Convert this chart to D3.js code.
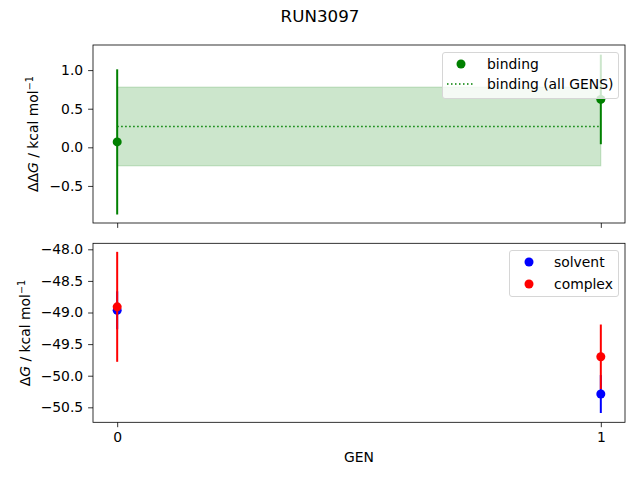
<!DOCTYPE html>
<html>
<head>
<meta charset="utf-8">
<script src="https://cdn.jsdelivr.net/npm/d3@7"></script>
<style>
  body { margin: 0; background: #fff; }
  svg { font-family: "DejaVu Sans", sans-serif; }
</style>
</head>
<body>
<div id="viz"></div>
<script>
// data
var gens = [0, 1];
var bindingVals = [0.07, 0.62];
var bindingErrs = [0.94, 0.58];
var bindingAll = 0.27;      // mean over all GENS
var bindingAllErr = 0.51;   // shaded band half-width
var solventVals = [-48.965, -50.29];
var solventErrs = [0.3, 0.3];
var complexVals = [-48.91, -49.70];
var complexErrs = [0.87, 0.51];
var topTicks = [-0.5, 0.0, 0.5, 1.0];
var bottomTicks = [-48.0, -48.5, -49.0, -49.5, -50.0, -50.5];

var W = 640, H = 480;
var LEFT = 93, RIGHT = 625;

var svg = d3.select("#viz")
  .append("svg")
  .attr("width", W)
  .attr("height", H);

var x = d3.scaleLinear().domain([-0.05, 1.05]).range([LEFT, RIGHT]);

var yTop = d3.scaleLinear().domain([-0.98, 1.325]).range([223, 45]);
var yBot = d3.scaleLinear().domain([-50.737, -47.905]).range([422.3, 243.3]);

function fmt(d) {
  return d3.format(".1f")(d).replace("-", "\u2212");
}

function styleAxis(g) {
  g.selectAll(".domain").remove();
  g.selectAll(".tick line").attr("stroke", "#000").attr("stroke-width", 0.8);
  g.selectAll(".tick text").attr("fill", "#000").style("font-size", "13.9px")
    .style("font-family", "DejaVu Sans");
}

function frame(y0, y1) {
  svg.append("rect")
    .attr("x", LEFT).attr("y", y0)
    .attr("width", RIGHT - LEFT).attr("height", y1 - y0)
    .attr("fill", "none").attr("stroke", "#000").attr("stroke-width", 0.8);
}

function errbar(g, xs, vals, errs, y, color) {
  g.selectAll(null).data(xs).enter().append("line")
    .attr("x1", function(d) { return x(d); })
    .attr("x2", function(d) { return x(d); })
    .attr("y1", function(d, i) { return y(vals[i] - errs[i]); })
    .attr("y2", function(d, i) { return y(vals[i] + errs[i]); })
    .attr("stroke", color).attr("stroke-width", 2);
  g.selectAll(null).data(xs).enter().append("circle")
    .attr("cx", function(d) { return x(d); })
    .attr("cy", function(d, i) { return y(vals[i]); })
    .attr("r", 4.5)
    .attr("fill", color);
}

// ---- top panel ----
var topG = svg.append("g");

topG.append("rect")
  .attr("x", x(gens[0]))
  .attr("y", yTop(bindingAll + bindingAllErr))
  .attr("width", x(gens[1]) - x(gens[0]))
  .attr("height", yTop(bindingAll - bindingAllErr) - yTop(bindingAll + bindingAllErr))
  .attr("fill", "green").attr("fill-opacity", 0.2)
  .attr("stroke", "green").attr("stroke-opacity", 0.2);

topG.append("line")
  .attr("x1", x(gens[0])).attr("x2", x(gens[1]))
  .attr("y1", yTop(bindingAll)).attr("y2", yTop(bindingAll))
  .attr("stroke", "green").attr("stroke-width", 1.5)
  .attr("stroke-dasharray", "1.5,2.5");

errbar(topG, gens, bindingVals, bindingErrs, yTop, "green");

frame(45, 223);

svg.append("g")
  .attr("transform", "translate(" + LEFT + ",0)")
  .call(d3.axisLeft(yTop).tickValues(topTicks).tickFormat(fmt).tickSize(4.9).tickPadding(4.9))
  .call(styleAxis);

svg.append("g")
  .attr("transform", "translate(0,223)")
  .call(d3.axisBottom(x).tickValues(gens).tickFormat("").tickSize(4.9))
  .call(styleAxis);

// legend top
var lt = svg.append("g");
lt.append("rect")
  .attr("x", 442.5).attr("y", 52.5).attr("width", 176).attr("height", 46)
  .attr("rx", 2.5)
  .attr("fill", "#fff").attr("fill-opacity", 0.8)
  .attr("stroke", "#d6d6d6");
lt.append("circle").attr("cx", 461).attr("cy", 64).attr("r", 4.5).attr("fill", "green");
lt.append("text").attr("x", 487).attr("y", 69).text("binding")
  .style("font-size", "13.9px");
lt.append("line").attr("x1", 447).attr("x2", 475).attr("y1", 84).attr("y2", 84)
  .attr("stroke", "green").attr("stroke-width", 1.5).attr("stroke-dasharray", "1.5,2.5");
lt.append("text").attr("x", 487).attr("y", 89).text("binding (all GENS)")
  .style("font-size", "13.9px");

// ---- bottom panel ----
var botG = svg.append("g");
errbar(botG, gens, solventVals, solventErrs, yBot, "blue");
errbar(botG, gens, complexVals, complexErrs, yBot, "red");

frame(243.3, 422.3);

svg.append("g")
  .attr("transform", "translate(" + LEFT + ",0)")
  .call(d3.axisLeft(yBot).tickValues(bottomTicks).tickFormat(fmt).tickSize(4.9).tickPadding(4.9))
  .call(styleAxis);

svg.append("g")
  .attr("transform", "translate(0,422.3)")
  .call(d3.axisBottom(x).tickValues(gens).tickFormat(d3.format("d")).tickSize(4.9).tickPadding(4.9))
  .call(styleAxis);

// legend bottom
var lb = svg.append("g");
lb.append("rect")
  .attr("x", 509.5).attr("y", 250.5).attr("width", 109).attr("height", 46)
  .attr("rx", 2.5)
  .attr("fill", "#fff").attr("fill-opacity", 0.8)
  .attr("stroke", "#d6d6d6");
lb.append("circle").attr("cx", 529).attr("cy", 262).attr("r", 4.5).attr("fill", "blue");
lb.append("text").attr("x", 554).attr("y", 267).text("solvent").style("font-size", "13.9px");
lb.append("circle").attr("cx", 529).attr("cy", 284).attr("r", 4.5).attr("fill", "red");
lb.append("text").attr("x", 554).attr("y", 289).text("complex").style("font-size", "13.9px");

// ---- labels ----
svg.append("text")
  .attr("x", 320).attr("y", 22)
  .attr("text-anchor", "middle")
  .style("font-size", "16.7px")
  .text("RUN3097");

svg.append("text")
  .attr("x", 359).attr("y", 462)
  .attr("text-anchor", "middle")
  .style("font-size", "13.9px")
  .text("GEN");

function ylabel(cx, cy, delta) {
  var t = svg.append("text")
    .attr("transform", "translate(" + cx + "," + cy + ") rotate(-90)")
    .attr("text-anchor", "middle")
    .style("font-size", "13.9px");
  t.append("tspan").text(delta);
  t.append("tspan").style("font-style", "italic").text("G");
  t.append("tspan").text(" / kcal mol");
  t.append("tspan").attr("dy", -5).style("font-size", "9.7px").text("\u22121");
}
ylabel(38, 134, "\u0394\u0394");
ylabel(30, 333, "\u0394");
</script>
</body>
</html>
